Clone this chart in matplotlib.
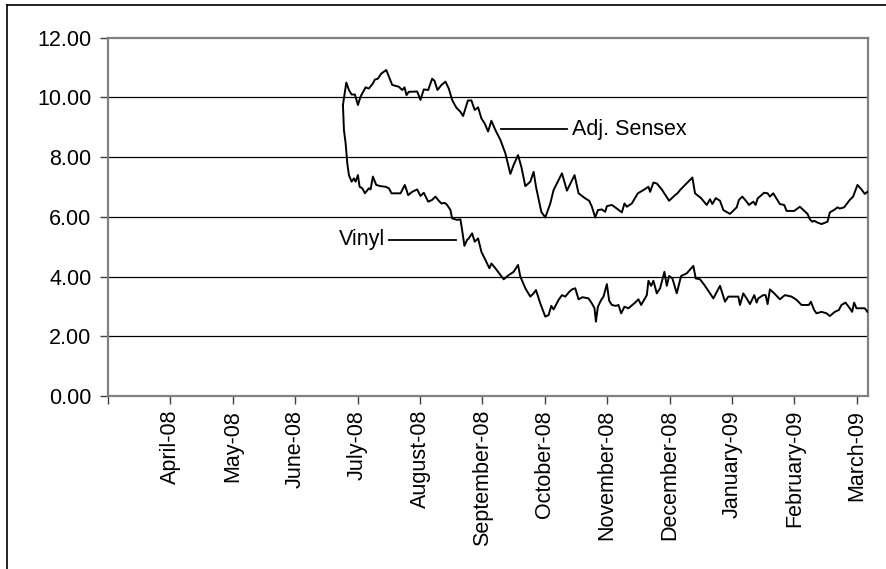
import matplotlib
matplotlib.use("Agg")
import matplotlib.pyplot as plt
from matplotlib.lines import Line2D

plt.rcParams['font.family'] = ['Liberation Sans', 'DejaVu Sans']

# x positions are in months counted from the start of March 2008
month_labels = ['', 'April-08', 'May-08', 'June-08', 'July-08', 'August-08',
                'September-08', 'October-08', 'November-08', 'December-08',
                'January-09', 'February-09', 'March-09']

sensex_t = [3.765, 3.819, 3.861, 3.904, 3.957, 4.005, 4.048, 4.128, 4.181, 4.245,
            4.277, 4.325, 4.379, 4.459, 4.501, 4.555, 4.661, 4.715, 4.752, 4.784,
            4.821, 4.955, 5.008, 5.061, 5.131, 5.195, 5.232, 5.280, 5.344, 5.408,
            5.461, 5.515, 5.579, 5.648, 5.691, 5.768, 5.824, 5.877, 5.931, 5.984,
            6.037, 6.091, 6.144, 6.208, 6.288, 6.368, 6.448, 6.501, 6.571, 6.624,
            6.688, 6.768, 6.821, 6.859, 6.944, 7.008, 7.088, 7.141, 7.275, 7.355,
            7.477, 7.541, 7.648, 7.712, 7.755, 7.808, 7.851, 7.915, 7.968, 7.995,
            8.075, 8.155, 8.235, 8.277, 8.315, 8.395, 8.491, 8.581, 8.661, 8.688,
            8.741, 8.795, 8.875, 8.992, 9.088, 9.131, 9.168, 9.365, 9.408, 9.504,
            9.595, 9.648, 9.685, 9.739, 9.808, 9.861, 9.968, 10.075, 10.112, 10.165,
            10.235, 10.272, 10.341, 10.379, 10.411, 10.517, 10.571, 10.608, 10.661, 10.768,
            10.837, 10.875, 10.997, 11.088, 11.211, 11.248, 11.285, 11.317, 11.371, 11.435,
            11.531, 11.568, 11.648, 11.691, 11.728, 11.797, 11.888, 11.941, 12.011, 12.075,
            12.128, 12.171]
sensex = [9.75, 10.50, 10.25, 10.10, 10.10, 9.75, 10.03, 10.34, 10.30, 10.47,
          10.60, 10.63, 10.80, 10.92, 10.70, 10.42, 10.36, 10.25, 10.34, 10.08,
          10.19, 10.20, 9.92, 10.27, 10.25, 10.63, 10.56, 10.25, 10.42, 10.53,
          10.30, 9.92, 9.67, 9.52, 9.38, 9.90, 9.90, 9.58, 9.67, 9.30,
          9.13, 8.86, 9.22, 8.91, 8.58, 8.13, 7.44, 7.74, 8.07, 7.68,
          7.03, 7.18, 7.51, 7.01, 6.17, 5.98, 6.45, 6.90, 7.46, 6.88,
          7.40, 6.79, 6.62, 6.54, 6.34, 5.98, 6.23, 6.25, 6.17, 6.36,
          6.40, 6.28, 6.15, 6.45, 6.34, 6.45, 6.79, 6.90, 7.01, 6.84,
          7.15, 7.12, 6.92, 6.54, 6.73, 6.80, 6.90, 7.32, 6.79, 6.63,
          6.40, 6.59, 6.43, 6.63, 6.54, 6.23, 6.10, 6.32, 6.57, 6.68,
          6.51, 6.40, 6.51, 6.40, 6.62, 6.81, 6.79, 6.68, 6.79, 6.43,
          6.40, 6.20, 6.20, 6.34, 6.10, 5.92, 5.84, 5.87, 5.81, 5.76,
          5.84, 6.15, 6.25, 6.32, 6.28, 6.32, 6.57, 6.68, 7.07, 6.92,
          6.77, 6.84]

vinyl_t = [3.765, 3.781, 3.808, 3.835, 3.861, 3.904, 3.941, 3.968, 4.005, 4.032,
           4.075, 4.117, 4.181, 4.208, 4.245, 4.299, 4.368, 4.448, 4.501, 4.544,
           4.688, 4.757, 4.811, 4.875, 4.955, 5.008, 5.061, 5.131, 5.195, 5.248,
           5.301, 5.344, 5.397, 5.435, 5.488, 5.515, 5.595, 5.648, 5.675, 5.712,
           5.755, 5.781, 5.835, 5.877, 5.931, 5.984, 6.048, 6.112, 6.144, 6.208,
           6.341, 6.421, 6.501, 6.571, 6.608, 6.688, 6.768, 6.821, 6.859, 6.928,
           7.008, 7.061, 7.104, 7.141, 7.221, 7.275, 7.328, 7.392, 7.435, 7.488,
           7.541, 7.605, 7.701, 7.755, 7.797, 7.819, 7.851, 7.904, 7.941, 7.995,
           8.032, 8.075, 8.139, 8.181, 8.224, 8.277, 8.341, 8.448, 8.501, 8.544,
           8.635, 8.661, 8.704, 8.741, 8.795, 8.848, 8.917, 8.955, 8.992, 9.045,
           9.115, 9.184, 9.275, 9.381, 9.419, 9.488, 9.557, 9.648, 9.701, 9.808,
           9.888, 9.941, 10.101, 10.128, 10.181, 10.235, 10.288, 10.357, 10.395, 10.421,
           10.501, 10.539, 10.571, 10.608, 10.677, 10.768, 10.848, 10.955, 11.035, 11.115,
           11.232, 11.264, 11.317, 11.355, 11.435, 11.515, 11.568, 11.648, 11.712, 11.755,
           11.819, 11.888, 11.925, 11.957, 11.995, 12.075, 12.128, 12.171]
vinyl = [9.75, 8.91, 8.47, 7.79, 7.40, 7.18, 7.29, 7.18, 7.40, 7.01,
         6.96, 6.79, 6.96, 6.92, 7.35, 7.07, 7.03, 7.01, 6.96, 6.79,
         6.79, 7.07, 6.73, 6.84, 6.92, 6.70, 6.81, 6.51, 6.57, 6.68,
         6.54, 6.45, 6.47, 6.40, 6.23, 5.95, 5.90, 5.92, 5.56, 5.03,
         5.23, 5.28, 5.45, 5.17, 5.28, 4.83, 4.56, 4.28, 4.44, 4.28,
         3.91, 4.05, 4.16, 4.39, 4.00, 3.61, 3.33, 3.44, 3.55, 3.10,
         2.66, 2.71, 3.02, 2.90, 3.22, 3.38, 3.33, 3.49, 3.57, 3.61,
         3.24, 3.31, 3.27, 3.10, 2.94, 2.49, 2.99, 3.22, 3.33, 3.75,
         3.19, 3.05, 3.02, 3.05, 2.77, 2.99, 2.94, 3.13, 3.24, 3.05,
         3.38, 3.86, 3.69, 3.86, 3.44, 3.61, 4.16, 3.69, 4.02, 3.94,
         3.44, 4.02, 4.11, 4.36, 3.94, 3.91, 3.72, 3.44, 3.27, 3.69,
         3.16, 3.33, 3.33, 3.05, 3.44, 3.27, 3.08, 3.38, 3.13, 3.27,
         3.38, 3.38, 3.08, 3.57, 3.44, 3.24, 3.38, 3.33, 3.22, 3.05,
         3.05, 3.16, 2.88, 2.77, 2.82, 2.77, 2.68, 2.82, 2.88, 3.05,
         3.13, 2.94, 2.82, 3.13, 2.94, 2.94, 2.94, 2.82]

fig = plt.figure(figsize=(8.86, 5.69), dpi=100)
ax = fig.add_axes([0.1219, 0.304, 0.8578, 0.6296])

# horizontal gridlines
for v in [2, 4, 6, 8, 10]:
    ax.axhline(v, color='black', lw=0.9, zorder=1)

ax.plot(sensex_t, sensex, color='black', lw=1.4, zorder=3)
ax.plot(vinyl_t, vinyl, color='black', lw=1.4, zorder=3)

# series labels with leader lines
ax.plot([6.30, 7.36], [8.94, 8.94], color='black', lw=1.3)
ax.text(7.44, 8.94, 'Adj. Sensex', fontsize=15.5, va='center', ha='left')
ax.plot([4.51, 5.58], [5.23, 5.23], color='black', lw=1.3)
ax.text(4.44, 5.23, 'Vinyl', fontsize=15.5, va='center', ha='right')

ax.set_xlim(0, 12.18)
ax.set_ylim(0, 12)
ax.set_yticks([0, 2, 4, 6, 8, 10, 12])
ax.set_yticklabels(['%.2f' % v for v in [0, 2, 4, 6, 8, 10, 12]])
ax.set_xticks(range(len(month_labels)))
ax.set_xticklabels(month_labels, rotation=90)

ax.tick_params(axis='both', direction='out', length=6, width=1,
               color='#404040', labelsize=15.5, pad=4)
ax.tick_params(axis='y', pad=6)
for s in ax.spines.values():
    s.set_color('#808080')
    s.set_linewidth(1.6)

# outer border of the original figure (top and left edges visible)
fig.add_artist(Line2D([0.0079, 0.0079], [0, 0.9912], color='black', lw=1.2))
fig.add_artist(Line2D([0.0079, 1], [0.9912, 0.9912], color='black', lw=1.2))

fig.savefig('out.png', dpi=100)
